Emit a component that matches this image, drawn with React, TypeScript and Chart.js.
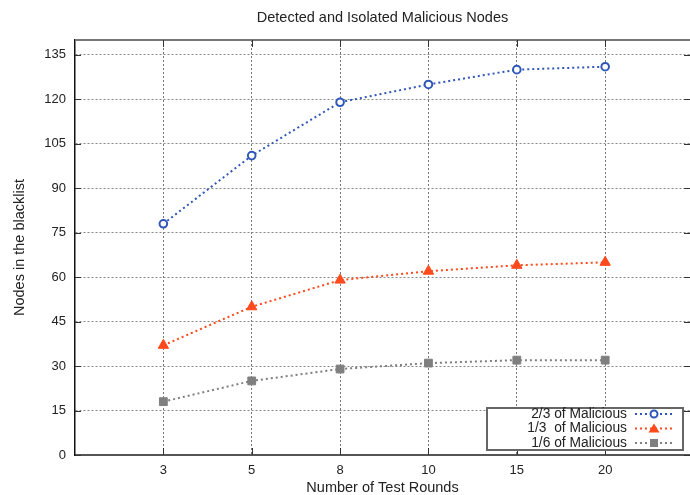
import React, { useEffect, useRef } from 'react';
import { Chart, registerables } from 'chart.js';
Chart.register(...registerables);

const rounds = ['3', '5', '8', '10', '15', '20'];
const twoThirds = [78, 101, 119, 125, 130, 131];
const oneThird = [37, 50, 59, 62, 64, 65];
const oneSixth = [18, 25, 29, 31, 32, 32];
const yTickValues = [0, 15, 30, 45, 60, 75, 90, 105, 120, 135];
const seriesLabels = ['2/3 of Malicious', '1/3  of Malicious', '1/6 of Malicious'];
const seriesColors = ['#2f56b8', '#ff4a1e', '#7f7f7f'];
const pointStyles = ['circle', 'triangle', 'rect'];

const FONT = '"Liberation Sans", Arial, sans-serif';

const toPoints = (arr: number[]) => arr.map((v, i) => ({ x: i + 1, y: v }));

const framePlugin = {
  id: 'frame',
  afterDraw(chart: any) {
    const { ctx, chartArea } = chart;
    const xs = chart.scales.x;
    const ys = chart.scales.y;
    ctx.save();
    ctx.strokeStyle = '#777';
    ctx.lineWidth = 2;
    ctx.beginPath();
    ctx.moveTo(chartArea.left, chartArea.top);
    ctx.lineTo(chartArea.right, chartArea.top);
    ctx.stroke();
    ctx.strokeStyle = '#333';
    ctx.lineWidth = 1;
    ctx.beginPath();
    xs.ticks.forEach((t: any) => {
      const px = Math.round(xs.getPixelForValue(t.value)) + 0.5;
      ctx.moveTo(px, chartArea.top);
      ctx.lineTo(px, chartArea.top + 7);
      ctx.moveTo(px, chartArea.bottom);
      ctx.lineTo(px, chartArea.bottom - 7);
    });
    ys.ticks.forEach((t: any) => {
      const py = Math.round(ys.getPixelForValue(t.value)) + 0.5;
      ctx.moveTo(chartArea.left, py);
      ctx.lineTo(chartArea.left + 6, py);
      ctx.moveTo(chartArea.right, py);
      ctx.lineTo(chartArea.right - 6, py);
    });
    ctx.stroke();

    const boxR = chartArea.right - 7;
    const boxB = chartArea.bottom - 5;
    const boxL = boxR - 196;
    const boxT = boxB - 42;
    ctx.fillStyle = '#fff';
    ctx.fillRect(boxL, boxT, boxR - boxL, boxB - boxT);
    ctx.strokeStyle = '#666';
    ctx.lineWidth = 2;
    ctx.strokeRect(boxL, boxT, boxR - boxL, boxB - boxT);

    ctx.font = `13.8px ${FONT}`;
    ctx.textAlign = 'right';
    ctx.textBaseline = 'middle';
    seriesLabels.forEach((lab, i) => {
      const y = boxT + 6 + i * 14.5;
      ctx.fillStyle = '#222';
      ctx.fillText(lab, boxR - 56, y);
      const lx1 = boxR - 48;
      const lx2 = boxR - 10;
      ctx.strokeStyle = seriesColors[i];
      ctx.lineWidth = 2;
      ctx.setLineDash([2, 3]);
      ctx.beginPath();
      ctx.moveTo(lx1, y);
      ctx.lineTo(lx2, y);
      ctx.stroke();
      ctx.setLineDash([]);
      const cx = (lx1 + lx2) / 2;
      ctx.fillStyle = seriesColors[i];
      if (i === 0) {
        ctx.beginPath();
        ctx.arc(cx, y, 3.5, 0, Math.PI * 2);
        ctx.fillStyle = '#fff';
        ctx.fill();
        ctx.lineWidth = 2;
        ctx.stroke();
      } else if (i === 1) {
        ctx.beginPath();
        ctx.moveTo(cx, y - 5);
        ctx.lineTo(cx + 5.5, y + 4);
        ctx.lineTo(cx - 5.5, y + 4);
        ctx.closePath();
        ctx.fill();
      } else {
        ctx.fillRect(cx - 4, y - 4, 8, 8);
      }
    });
    ctx.restore();
  },
};

export default function App() {
  const ref = useRef<HTMLCanvasElement>(null);
  useEffect(() => {
    if (!ref.current) return;
    const chart = new Chart(ref.current, {
      type: 'line',
      data: {
        datasets: [twoThirds, oneThird, oneSixth].map((arr, i) => ({
          label: seriesLabels[i],
          data: toPoints(arr),
          borderColor: seriesColors[i],
          backgroundColor: i === 0 ? '#ffffff' : seriesColors[i],
          pointBorderColor: seriesColors[i],
          pointBackgroundColor: i === 0 ? '#ffffff' : seriesColors[i],
          pointStyle: pointStyles[i] as any,
          pointRadius: i === 0 ? 3.8 : i === 1 ? 6 : 5.5,
          pointBorderWidth: i === 0 ? 2 : 1,
          borderWidth: 2,
          borderDash: [2, 3],
          tension: 0,
          fill: false,
        })),
      },
      options: {
        animation: false,
        responsive: false,
        maintainAspectRatio: false,
        layout: { autoPadding: false, padding: 0 },
        plugins: {
          legend: { display: false },
          tooltip: { enabled: false },
          title: {
            display: true,
            text: 'Detected and Isolated Malicious Nodes',
            fullSize: false,
            color: '#222',
            font: { family: FONT, size: 14.5, weight: 'normal', lineHeight: 1.2 },
            padding: { top: 9, bottom: 13.6 },
          },
        },
        scales: {
          x: {
            type: 'linear',
            min: 0,
            max: 6.96,
            afterBuildTicks: (s: any) => {
              s.ticks = rounds.map((_, i) => ({ value: i + 1 }));
            },
            afterFit: (s: any) => {
              s.height = 40;
              s.paddingRight = 0;
              s.paddingLeft = 0;
            },
            ticks: {
              callback: (v: any) => rounds[Number(v) - 1] ?? '',
              color: '#222',
              font: { family: FONT, size: 13 },
              padding: 8,
              maxRotation: 0,
              autoSkip: false,
            },
            grid: {
              color: '#777',
              lineWidth: 1,
              drawTicks: false,
            },
            border: { display: true, color: '#555', width: 2, dash: [2, 2] },
            title: {
              display: true,
              text: 'Number of Test Rounds',
              color: '#222',
              font: { family: FONT, size: 14.5, lineHeight: 0.9 },
              padding: { top: 0, bottom: 0 },
            },
          },
          y: {
            type: 'linear',
            min: 0,
            max: 140,
            afterBuildTicks: (s: any) => {
              s.ticks = yTickValues.map((v) => ({ value: v }));
            },
            afterFit: (s: any) => {
              s.width = 75;
              s.paddingTop = 0;
              s.paddingBottom = 0;
            },
            ticks: {
              color: '#222',
              font: { family: FONT, size: 13 },
              padding: 9,
            },
            grid: {
              color: '#888',
              lineWidth: 1,
              drawTicks: false,
            },
            border: { display: true, color: '#111', width: 1.5, dash: [2, 2] },
            title: {
              display: true,
              text: 'Nodes in the blacklist',
              color: '#222',
              font: { family: FONT, size: 14.5, lineHeight: 1.2 },
              padding: { top: 11, bottom: 0 },
            },
          },
        },
      },
      plugins: [framePlugin],
    } as any);
    return () => chart.destroy();
  }, []);
  return (
    <div style={{ position: 'fixed', left: 0, top: 0, width: 690, height: 495, background: '#fff' }}>
      <canvas ref={ref} width={690} height={495} style={{ width: 690, height: 495, display: 'block' }} />
    </div>
  );
}
